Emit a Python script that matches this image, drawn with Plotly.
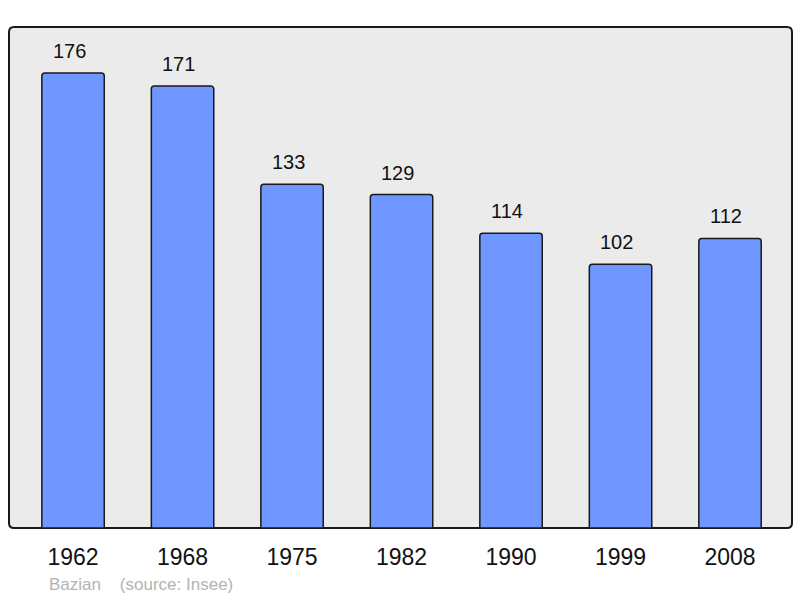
import plotly.graph_objects as go

years = ["1962", "1968", "1975", "1982", "1990", "1999", "2008"]
population = [176, 171, 133, 129, 114, 102, 112]

W, H = 800, 598
ml, mr, mt, mb = 9, 8, 27, 70
pw, ph = W - ml - mr, H - mt - mb

fig = go.Figure()
fig.add_trace(go.Bar(
    x=list(range(len(years))), y=population,
    width=0.57,
    marker=dict(color="#7096ff", line=dict(color="#1a1a1a", width=1.5), cornerradius=3),
    hoverinfo="skip",
))

for i, v in enumerate(population):
    fig.add_annotation(x=i, y=v, text=str(v), showarrow=False, yanchor="bottom",
                       yshift=9, xshift=-4, font=dict(size=20, color="#111111"))

# rounded plot border
rx, ry = 5 / pw, 5 / ph
path = (f"M {rx},0 L {1-rx},0 Q 1,0 1,{ry} L 1,{1-ry} Q 1,1 {1-rx},1 "
        f"L {rx},1 Q 0,1 0,{1-ry} L 0,{ry} Q 0,0 {rx},0 Z")
fig.add_shape(type="path", path=path, xref="paper", yref="paper",
              fillcolor="#ebebeb", line=dict(color="#1a1a1a", width=2), layer="below")

fig.add_annotation(x=(47 - ml) / pw, y=(H - mb - 584) / ph, xref="paper", yref="paper",
                   text="Bazian&nbsp;&nbsp;&nbsp;&nbsp;(source: Insee)",
                   showarrow=False, xanchor="left", yanchor="middle",
                   font=dict(size=17, color="#b3b3b3"))

fig.update_layout(
    width=W, height=H,
    margin=dict(l=ml, r=mr, t=mt, b=mb),
    paper_bgcolor="white", plot_bgcolor="rgba(0,0,0,0)",
    font=dict(family="Liberation Sans, Arial, sans-serif"),
    showlegend=False,
    xaxis=dict(tickmode="array", tickvals=list(range(len(years))), ticktext=years,
               range=[-0.585, 6.566], showgrid=False, zeroline=False, showline=False,
               tickfont=dict(size=23, color="#111111"), ticks="", ticklabelstandoff=13),
    yaxis=dict(range=[0, 193.8], showgrid=False, zeroline=False, showline=False,
               showticklabels=False, ticks=""),
)

fig.write_html("out.html", config={"displayModeBar": False},
               post_script="document.body.style.margin='0';document.body.style.overflow='hidden';")
